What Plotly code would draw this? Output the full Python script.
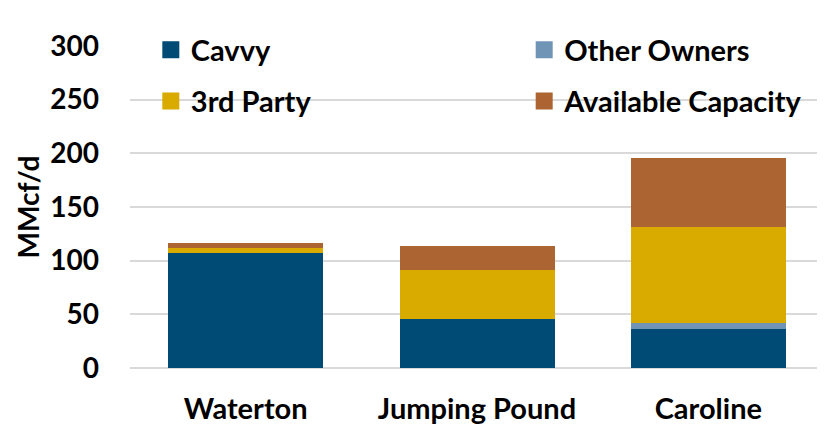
import plotly.graph_objects as go

categories = ["Waterton", "Jumping Pound", "Caroline"]
cavvy = [107, 46, 36]
other_owners = [0, 0, 6]
third_party = [5, 45, 89]
available = [4, 23, 65]
y_ticks = [0, 50, 100, 150, 200, 250, 300]

series_names = ["Cavvy", "Other Owners", "3rd Party", "Available Capacity"]
series_values = [cavvy, other_owners, third_party, available]
colors = ["#004A76", "#7094B6", "#D9AA00", "#AD6433"]
legend_ids = ["legend", "legend2", "legend3", "legend4"]

FONT = "Lato, 'Open Sans', sans-serif"
FS = 28

fig = go.Figure()
# stacked bars
for name, vals, col in zip(series_names, series_values, colors):
    fig.add_trace(go.Bar(
        x=categories, y=vals, name=name,
        marker=dict(color=col, line=dict(width=0)),
        showlegend=False,
    ))
# legend proxies (no data, only legend swatches)
for name, col, leg in zip(series_names, colors, legend_ids):
    fig.add_trace(go.Bar(
        x=[None], y=[None], name=name,
        marker=dict(color=col, line=dict(color=col, width=7)),
        legend=leg, showlegend=True, hoverinfo="skip",
    ))

leg_font = dict(family=FONT, size=29, color="#000000", weight="bold")
def leg(x, y):
    return dict(x=x, y=y, xanchor="left", yanchor="middle",
                orientation="h", font=leg_font,
                bgcolor="rgba(0,0,0,0)", borderwidth=0)

fig.update_layout(
    width=817, height=419,
    margin=dict(l=122, r=1, t=38, b=59),
    paper_bgcolor="white", plot_bgcolor="white",
    barmode="stack", bargap=0.33,
    font=dict(family=FONT, size=FS, color="#000000"),
    legend=leg(0.030, 0.9876),
    legend2=leg(0.568, 0.9876),
    legend3=leg(0.030, 0.829),
    legend4=leg(0.568, 0.829),
    xaxis=dict(
        tickfont=dict(family=FONT, size=29, color="#000000", weight="bold"),
        showgrid=False, showline=False, ticks="", automargin=False,
        ticklabelstandoff=21,
    ),
    yaxis=dict(
        range=[0, 300], tickvals=y_ticks,
        tickfont=dict(family=FONT, size=FS, color="#000000", weight="bold"),
        showgrid=True, gridcolor="#D9D9D9", gridwidth=2,
        zeroline=True, zerolinecolor="#D9D9D9", zerolinewidth=2,
        ticks="", ticklabelstandoff=30, automargin=False,
        title=dict(text="<b>MMcf/d</b>", font=dict(family=FONT, size=FS, color="#000000"), standoff=2),
    ),
)

fig.write_html("out.html")
